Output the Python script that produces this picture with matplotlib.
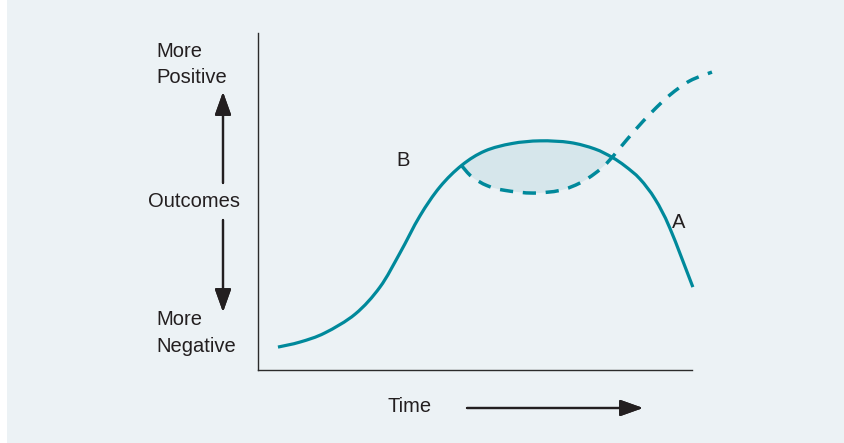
import numpy as np
import matplotlib
matplotlib.use('Agg')
import matplotlib.pyplot as plt
from matplotlib.patches import Rectangle, PathPatch
from matplotlib.path import Path

plt.rcParams['font.family'] = ['Liberation Sans', 'DejaVu Sans']

# 曲线数据（时间 0-100，结果 0-100）
time_main = [4.6, 9.7, 15.4, 22.4, 28.1, 32.7, 37.3, 41.9, 47.0, 52.3, 58.5, 65.0,
             71.9, 77.6, 81.6, 84.6, 88.0, 91.5, 94.9, 100.2]
outcome_main = [6.8, 8.3, 11.0, 16.6, 24.6, 34.7, 45.7, 54.3, 60.8, 65.0, 67.2, 68.0,
                67.5, 65.6, 63.1, 60.5, 56.7, 50.7, 42.1, 24.6]

time_alt = [47.0, 49.3, 52.8, 56.9, 63.4, 69.6, 74.2, 77.6, 80.4, 83.4, 86.9,
            90.8, 94.9, 99.5, 104.6]
outcome_alt = [60.5, 57.3, 54.7, 53.3, 52.5, 53.3, 55.5, 58.3, 61.4, 65.9, 71.2,
               76.6, 81.6, 85.8, 88.4]

# 两条曲线分叉与交叉的时间
split_t = 47.0
cross_t = 81.6

teal = '#00899B'
shade = '#D6E6EB'
ink = '#231F20'
bg = '#ECF2F5'


def smooth_path(x, y):
    """用贝塞尔曲线平滑地连接数据点（Catmull-Rom 切线）"""
    p = np.column_stack([x, y])
    n = len(p)
    verts = [p[0]]
    codes = [Path.MOVETO]
    for i in range(n - 1):
        p0 = p[i - 1] if i > 0 else p[i]
        p3 = p[i + 2] if i + 2 < n else p[i + 1]
        c1 = p[i] + (p[i + 1] - p0) / 6.0
        c2 = p[i + 1] - (p3 - p[i]) / 6.0
        verts += [c1, c2, p[i + 1]]
        codes += [Path.CURVE4] * 3
    return np.array(verts), codes


W, H = 845, 443
fig = plt.figure(figsize=(W / 100, H / 100), dpi=100, facecolor=bg)
fig.patches.append(Rectangle((0, 0), 7 / W, 1, transform=fig.transFigure,
                             facecolor='white', edgecolor='none', zorder=0))

ax = fig.add_axes([258 / W, 1 - 370 / H, 434 / W, 337 / H])
ax.set_facecolor(bg)
ax.set_xlim(0, 100)
ax.set_ylim(0, 100)
for s in ['top', 'right']:
    ax.spines[s].set_visible(False)
for s in ['left', 'bottom']:
    ax.spines[s].set_color('#2B2B2B')
    ax.spines[s].set_linewidth(1.0)
ax.set_xticks([])
ax.set_yticks([])

tm = np.array(time_main)
om = np.array(outcome_main)
ta = np.array(time_alt)
oa = np.array(outcome_alt)

# 阴影区域：上方实线与下方虚线之间
top = (tm >= split_t) & (tm <= cross_t)
bot = (ta >= split_t) & (ta <= cross_t)
v1, c1 = smooth_path(tm[top], om[top])
v2, c2 = smooth_path(ta[bot][::-1], oa[bot][::-1])
c2 = [Path.LINETO] + c2[1:]
fill_path = Path(np.vstack([v1, v2, v1[:1]]), c1 + c2 + [Path.CLOSEPOLY])
ax.add_patch(PathPatch(fill_path, facecolor=shade, edgecolor='none', zorder=1))

vm, cm = smooth_path(tm, om)
ax.add_patch(PathPatch(Path(vm, cm), facecolor='none', edgecolor=teal, lw=2.3,
                       capstyle='butt', zorder=3, clip_on=False))
va, ca = smooth_path(ta, oa)
ax.add_patch(PathPatch(Path(va, ca), facecolor='none', edgecolor=teal, lw=2.5,
                       linestyle=(0, (3.8, 2.8)), capstyle='butt', zorder=3,
                       clip_on=False))

ax.text(33.4, 62.3, 'B', fontsize=14.5, color=ink, ha='center', va='center')
ax.text(97.0, 43.9, 'A', fontsize=14.5, color=ink, ha='center', va='center')


def fx(px):
    return px / W


def fy(py):
    return 1 - py / H


fs = 14.5
fig.text(fx(156), fy(57), 'More', fontsize=fs, color=ink, va='baseline')
fig.text(fx(156), fy(83), 'Positive', fontsize=fs, color=ink, va='baseline')
fig.text(fx(156), fy(325), 'More', fontsize=fs, color=ink, va='baseline')
fig.text(fx(156), fy(352), 'Negative', fontsize=fs, color=ink, va='baseline')
fig.text(fx(194), fy(207), 'Outcomes', fontsize=fs, color=ink, ha='center', va='baseline')
fig.text(fx(410), fy(412), 'Time', fontsize=fs, color=ink, ha='center', va='baseline')

arrow = dict(arrowstyle='-|>,head_length=0.7,head_width=0.25', color=ink, lw=1.6,
             mutation_scale=20, shrinkA=0, shrinkB=0)
fig.add_artist(plt.annotate('', xy=(fx(223), fy(92)), xytext=(fx(223), fy(183)),
                            xycoords='figure fraction', arrowprops=arrow))
fig.add_artist(plt.annotate('', xy=(fx(223), fy(312)), xytext=(fx(223), fy(220)),
                            xycoords='figure fraction', arrowprops=arrow))
fig.add_artist(plt.annotate('', xy=(fx(643), fy(408)), xytext=(fx(467), fy(408)),
                            xycoords='figure fraction', arrowprops=arrow))

fig.savefig('out.png', dpi=100, facecolor=bg)
